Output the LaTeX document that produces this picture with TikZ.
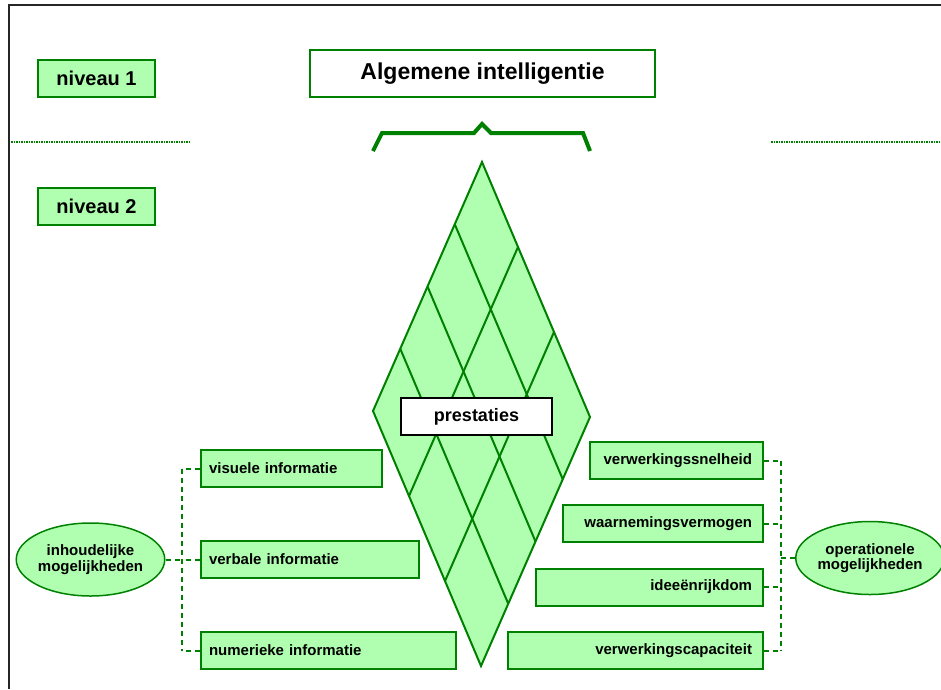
\documentclass[tikz,border=0pt]{standalone}
\usepackage{fontspec}
\setmainfont{Liberation Sans}
\usetikzlibrary{calc,shapes.geometric}
\definecolor{dgreen}{RGB}{0,128,0}
\definecolor{lgreen}{RGB}{176,255,176}
\tikzset{
	lbox/.style={draw=dgreen,fill=lgreen,line width=2pt,minimum height=37pt,inner xsep=8pt,font=\fontsize{15}{18}\selectfont\bfseries},
	leftbox/.style={lbox,anchor=west,align=left},
	rightbox/.style={lbox,anchor=east,align=right,inner xsep=11pt},
	oval/.style={ellipse,draw=dgreen,fill=lgreen,line width=1.5pt,minimum width=145pt,minimum height=73pt,inner sep=0pt,align=center,font=\fontsize{15}{15.7}\selectfont\bfseries},
	conn/.style={dgreen,line width=2pt,dash pattern=on 5pt off 4pt},
}
\begin{document}
\begin{tikzpicture}[x=1pt,y=-1pt]
		\useasboundingbox(0,0) rectangle(941,689);
		\draw[line width=1.5pt,black!85](9,689)--(9,5)--(941,5);
		% levels
		\node[lbox,minimum width=117pt,font=\fontsize{20}{24}\selectfont\bfseries](niv1) at(96.5,78.5){niveau 1};
		\node[lbox,minimum width=117pt,font=\fontsize{20}{24}\selectfont\bfseries](niv2) at(96.5,206.5){niveau 2};
		\node[draw=dgreen,fill=white,line width=2pt,minimum width=345pt,minimum height=47pt,font=\fontsize{23}{28}\selectfont\bfseries](alg) at(482.5,73.5){Algemene intelligentie};
		\draw[dgreen,line width=2.5pt,dash pattern=on 1.5pt off 1pt](11,142)--(191,142)(771,142)--(941,142);
		\draw[dgreen,line width=4pt](373,151)--(382,133)--(474,133)--(482,124)--(491,133)--(583,133)--(590,151);
		% diamond
		\coordinate(T) at(482,162);
		\coordinate(L) at(373,411);
		\coordinate(R) at(590,417);
		\coordinate(B) at(481,666);
		\draw[dgreen,line width=2pt,fill=lgreen](T)--(R)--(B)--(L)--cycle;
		\foreach \i in {1,2,3} \draw[dgreen,line width=2pt]($(T)!\i/4!(L)$)--($(R)!\i/4!(B)$);
		\foreach \j in {1,2} \draw[dgreen,line width=2pt]($(T)!\j/3!(R)$)--($(L)!\j/3!(B)$);
		\node[draw=black,fill=white,line width=2pt,minimum width=151pt,minimum height=37pt,font=\fontsize{18}{22}\selectfont\bfseries](pres) at(476.5,416.5){prestaties};
		% left side
		\node[oval](inh) at(90.5,559.5){inhoudelijke\\mogelijkheden};
		\node[leftbox,text width=165pt](vis) at(200,468.5){visuele informatie};
		\node[leftbox,text width=202pt](verb) at(200,559.5){verbale informatie};
		\node[leftbox,text width=239pt](num) at(200,650.5){numerieke informatie};
		\coordinate(lbus) at(182,0);
		\draw[conn](vis.west -| lbus)--(num.west -| lbus);
		\foreach \n in {vis,verb,num} \draw[conn](\n.west)--(\n.west -| lbus);
		\draw[conn](inh.east)--(inh.east -| lbus);
		% right side
		\node[oval](oper) at(870,558){operationele\\mogelijkheden};
		\node[rightbox,text width=151pt](snel) at(764,460.5){verwerkingssnelheid};
		\node[rightbox,text width=178pt](waar) at(764,523.5){waarnemingsvermogen};
		\node[rightbox,text width=205pt](idee) at(764,587){ideeënrijkdom};
		\node[rightbox,text width=233pt](cap) at(764,650.5){verwerkingscapaciteit};
		\coordinate(rbus) at(781,0);
		\draw[conn](snel.east -| rbus)--(cap.east -| rbus);
		\foreach \n in {snel,waar,idee,cap} \draw[conn](\n.east)--(\n.east -| rbus);
		\draw[conn](oper.west)--(oper.west -| rbus);
\end{tikzpicture}
\end{document}
